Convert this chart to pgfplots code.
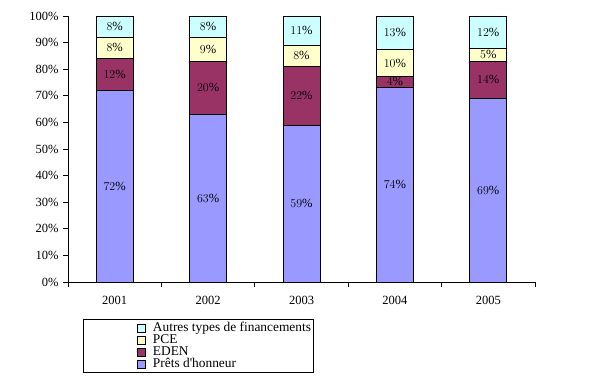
\documentclass[border=0pt]{standalone}
\usepackage{pgfplots}
\pgfplotsset{compat=1.18}
\usepackage{pgfplotstable}
\usepackage{fontspec}
\setmainfont{Liberation Serif}
\definecolor{cPret}{HTML}{9999FF}
\definecolor{cEden}{HTML}{993366}
\definecolor{cPce}{HTML}{FFFFCC}
\definecolor{cAutre}{HTML}{CCFFFF}
\pgfplotstableread{
x p e c a lp le lc la
0 72 12 8 8 72 12 8 8
1 63 20 9 8 63 20 9 8
2 59 22 8 11 59 22 8 11
3 73.3 4.1 9.9 12.7 74 4 10 13
4 69 14 5 12 69 14 5 12
}\data
\begin{document}
\begin{tikzpicture}[font=\fontsize{12.5}{14}\selectfont]
\useasboundingbox (0,0) rectangle (615pt,378pt);
\begin{axis}[
  at={(68pt,96pt)}, anchor=south west,
  scale only axis, width=467pt, height=266pt,
  ybar stacked, bar width=37pt,
  xmin=-0.5, xmax=4.5, ymin=0, ymax=100,
  axis x line*=bottom, axis y line*=left,
  axis line style={line width=0.8pt},
  xtick={-0.5,0.5,...,4.5}, xticklabels={,,,,,},
  extra x ticks={0,1,2,3,4},
  extra x tick labels={2001,2002,2003,2004,2005},
  extra x tick style={major tick length=0pt, xticklabel style={yshift=-11pt}},
  ytick={0,10,...,100},
  yticklabel={\pgfmathprintnumber{\tick}\%},
  tick align=outside, major tick length=5pt,
  every tick/.style={black, line width=0.8pt},
  /pgf/number format/assume math mode=true,
  yticklabel style={xshift=-1pt},
  legend cell align=left,
  reverse legend,
  legend image code/.code={\draw[#1, draw=black, line width=0.6pt] (0pt,-4pt) rectangle (8pt,4pt);},
  legend style={at={(rel axis cs:0.148,-0.152)}, anchor=north west, draw=none, fill=none,
    inner sep=0pt, row sep=0pt, column sep=7pt,
    font=\fontsize{13.4}{15}\selectfont,
    nodes={inner sep=0pt, text height=9pt, text depth=3pt}},
]
\addplot[fill=cPret, draw=black, line width=0.8pt] table[x=x, y=p] {\data};
\addlegendentry{Prêts d\textquotesingle honneur}
\addplot[fill=cEden, draw=black, line width=0.8pt] table[x=x, y=e] {\data};
\addlegendentry{EDEN}
\addplot[fill=cPce, draw=black, line width=0.8pt] table[x=x, y=c] {\data};
\addlegendentry{PCE}
\addplot[fill=cAutre, draw=black, line width=0.8pt] table[x=x, y=a] {\data};
\addlegendentry{Autres types de financements}
\end{axis}
\begin{axis}[
  at={(68pt,96pt)}, anchor=south west,
  scale only axis, width=467pt, height=266pt,
  xmin=-0.5, xmax=4.5, ymin=0, ymax=100,
  axis lines=none,
  nodes near coords={\pgfmathprintnumber{\pgfplotspointmeta}\%},
  every node near coord/.style={anchor=center, inner sep=0pt, text=black},
  point meta=explicit,
]
\addplot[only marks, mark=*, mark size=0pt, mark options={draw=none, fill=none}]
  table[x=x, y expr=\thisrow{p}/2, meta=lp] {\data};
\addplot[only marks, mark=*, mark size=0pt, mark options={draw=none, fill=none}]
  table[x=x, y expr=\thisrow{p}+\thisrow{e}/2, meta=le] {\data};
\addplot[only marks, mark=*, mark size=0pt, mark options={draw=none, fill=none}]
  table[x=x, y expr=\thisrow{p}+\thisrow{e}+\thisrow{c}/2, meta=lc] {\data};
\addplot[only marks, mark=*, mark size=0pt, mark options={draw=none, fill=none}]
  table[x=x, y expr=\thisrow{p}+\thisrow{e}+\thisrow{c}+\thisrow{a}/2, meta=la] {\data};
\end{axis}
\draw[line width=0.8pt] (83pt,6pt) rectangle (313pt,59pt);
\end{tikzpicture}
\end{document}
